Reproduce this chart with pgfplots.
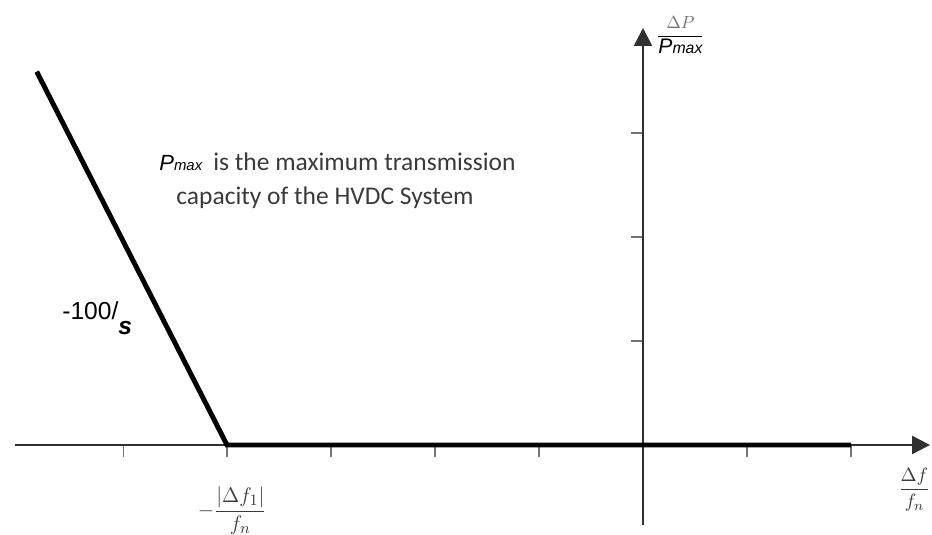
\documentclass[border=0pt]{standalone}
\usepackage{fontspec}
\setmainfont{Carlito}
\newfontfamily\arialfont{Liberation Sans}
\usepackage{pgfplots}
\pgfplotsset{compat=1.18}
\usetikzlibrary{arrows.meta}

\definecolor{axisgray}{HTML}{303030}
\definecolor{textgray}{HTML}{3A3A3A}

\begin{document}
\begin{tikzpicture}
\begin{axis}[
    x=2.08cm, y=2.08cm,
    axis lines=middle,
    xmin=-6.04, xmax=2.76,
    ymin=-0.77, ymax=4.01,
    axis line style={line width=1.4pt, color=axisgray,
        -{Triangle[length=0.36cm,width=0.36cm]}},
    xtick={-5,-4,-3,-2,-1,1,2},
    ytick={1,2,3},
    xticklabels={}, yticklabels={},
    tick style={black!55, line width=0.6pt},
    major tick length=0.24cm,
    tick align=outside,
    clip=false,
]
    % droop characteristic
    \addplot[black, line width=2.8pt, mark=none]
        coordinates {(-5.83,3.59) (-4,0) (2.0,0)};

    % tick label and axis labels
    \node[textgray, inner sep=0] at (axis cs:-3.95,-0.63)
        {\fontsize{12.5}{14}\selectfont $\displaystyle -\frac{|\Delta f_1|}{f_n}$};
    \node[textgray, inner sep=0] at (axis cs:2.61,-0.43)
        {\fontsize{11}{13}\selectfont $\displaystyle \frac{\Delta f}{f_n}$};
    \node[inner sep=0] at (axis cs:0.36,3.94)
        {$\displaystyle \frac{\color{black!55}\Delta P}{\mbox{\arialfont\itshape\fontsize{12}{12}\selectfont P\fontsize{9}{9}\selectfont max}}$};

    % annotation
    \node[anchor=base west, inner sep=0, black] at (axis cs:-4.654,2.644)
        {\arialfont\itshape\fontsize{12.5}{13}\selectfont P\fontsize{8.5}{9}\selectfont max};
    \node[anchor=base west, inner sep=0, textgray] at (axis cs:-4.135,2.644)
        {\fontsize{14.5}{17}\selectfont is the maximum transmission};
    \node[anchor=base west, inner sep=0, textgray] at (axis cs:-4.49,2.308)
        {\fontsize{14.5}{17}\selectfont capacity of the HVDC System};

    % slope label
    \node[anchor=base west, inner sep=0, black] at (axis cs:-5.587,1.202)
        {\arialfont\fontsize{14}{14}\selectfont -100/\raisebox{-8.5pt}{\bfseries\itshape s}};

    \coordinate (bl) at (axis cs:-6.183,-0.865);
    \coordinate (tr) at (axis cs:2.779,4.279);
\end{axis}
\pgfresetboundingbox
\useasboundingbox (bl) rectangle (tr);
\end{tikzpicture}
\end{document}
